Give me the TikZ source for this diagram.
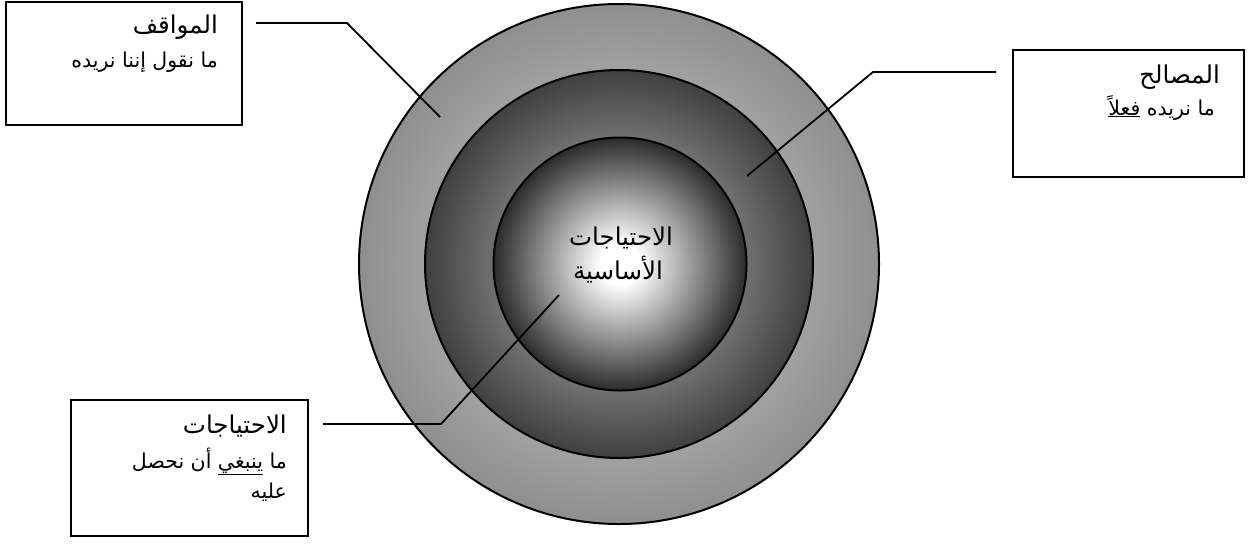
\documentclass[tikz,border=0pt]{standalone}
\usepackage{fontspec}
\usepackage{tikz}
\usetikzlibrary{positioning, shapes.geometric}
\TeXXeTstate=1
\newfontfamily\arabicfont[Script=Arabic]{DejaVu Sans}

% radial shadings for the three discs
\pgfdeclareradialshading{outershade}{\pgfpoint{0bp}{0bp}}{%
  color(0bp)=(black!16); color(25bp)=(black!44); color(100bp)=(black!44)}
\pgfdeclareradialshading{middleshade}{\pgfpoint{0bp}{0bp}}{%
  color(0bp)=(black!20); color(25bp)=(black!75); color(100bp)=(black!75)}
\pgfdeclareradialshading{coreshade}{\pgfpoint{0bp}{0bp}}{%
  color(0bp)=(white); color(4bp)=(white); color(25bp)=(black!83); color(100bp)=(black!83)}

\begin{document}
\begin{tikzpicture}[
    x=1pt, y=-1pt,
    disc/.style={circle, draw, line width=2pt, inner sep=0pt},
    notebox/.style={draw, line width=1.8pt, anchor=north west, inner sep=0pt},
    head/.style={anchor=base east, inner sep=0pt, font=\arabicfont\fontsize{24.5}{28}\selectfont},
    sub/.style={anchor=base east, inner sep=0pt, font=\arabicfont\fontsize{20.5}{24}\selectfont},
    leader/.style={line width=1.8pt}
  ]
  \useasboundingbox (0,0) rectangle (1257,544);

  % rings
  \node[disc, minimum size=520pt, shading=outershade] (outer) at (619,264) {};
  \node[disc, minimum size=388pt, shading=middleshade] (middle) at (619,264) {};
  \node[disc, minimum size=253pt, shading=coreshade] (core) at (620,264) {};

  \node[head, anchor=base] (coreA) at (621,245) {\beginR الاحتياجات\endR};
  \node[head, anchor=base] (coreB) at (618,279) {\beginR الأساسية\endR};

  % boxes
  \node[notebox, minimum width=236pt, minimum height=123pt] (posbox) at (5,1) {};
  \node[notebox, minimum width=231pt, minimum height=127pt] (intbox) at (1012,49) {};
  \node[notebox, minimum width=237pt, minimum height=136pt] (needbox) at (70,399) {};

  \node[head] (posA) at (218,33) {\beginR المواقف\endR};
  \node[sub] (posB) at (218,67) {\beginR ما نقول إننا نريده\endR};

  \node[head] (intA) at (1220,83) {\beginR المصالح\endR};
  \node[sub] (intB) at (1215,115) {\beginR ما نريده \underline{فعلاً}\endR};

  \node[head] (needA) at (287,433) {\beginR الاحتياجات\endR};
  \node[sub] (needB) at (287,468) {\beginR ما \underline{ينبغي} أن نحصل\endR};
  \node[sub] (needC) at (287,498) {\beginR عليه\endR};

  % leader lines
  \coordinate (posS) at (256,23);
  \coordinate (posK) at (347,23);
  \coordinate (posE) at (440,117);
  \coordinate (intS) at (996,72);
  \coordinate (intK) at (873,72);
  \coordinate (intE) at (747,176);
  \coordinate (needS) at (323,424);
  \coordinate (needK) at (441,424);
  \coordinate (needE) at (559,295);

  \draw[leader] (posS) -- (posK) -- (posE);
  \draw[leader] (intS) -- (intK) -- (intE);
  \draw[leader] (needS) -- (needK) -- (needE);
\end{tikzpicture}
\end{document}
